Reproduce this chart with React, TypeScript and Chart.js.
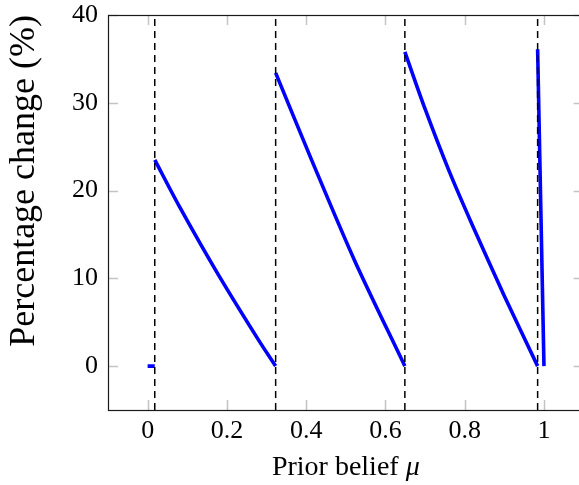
import React, { useEffect, useRef } from "react";
import { Chart, registerables } from "chart.js";

Chart.register(...registerables);

// ---- data ----
const xTicks = [0, 0.2, 0.4, 0.6, 0.8, 1];
const yTicks = [0, 10, 20, 30, 40];
const thresholds = [0.018, 0.323, 0.649, 0.984];

const seg0X = [0, 0.018];
const seg0Y = [0, 0];
const seg1X = [0.018, 0.08, 0.176, 0.28, 0.323];
const seg1Y = [23.5, 18.2, 10.6, 2.96, 0];
const seg2X = [0.323, 0.4136, 0.5215, 0.649];
const seg2Y = [33.4, 23.5, 12.1, 0];
const seg3X = [0.649, 0.7, 0.76, 0.82, 0.9, 0.984];
const seg3Y = [35.8, 29.3, 22.3, 16.0, 8.0, 0];
const seg4X = [0.984, 1.0];
const seg4Y = [36.1, 0];

const X_MIN = -0.1;
const X_MAX = 1.1;
const Y_MIN = -5;
const Y_MAX = 40;

const SERIF = "'Liberation Serif', 'DejaVu Serif', serif";

function pts(xs: number[], ys: number[]) {
  return xs.map((x, i) => ({ x, y: ys[i] }));
}

function fmt(v: number) {
  if (v === 0) return "0";
  if (v === 1) return "1";
  return v.toFixed(1);
}

const boxPlugin = {
  id: "pgfBox",
  beforeDatasetsDraw(chart: any) {
    const { ctx, chartArea: a, scales } = chart;
    const xs = scales.x;
    const ys = scales.y;
    ctx.save();
    ctx.strokeStyle = "#c4c4c4";
    ctx.lineWidth = 1.5;
    const L = 10;
    xTicks.forEach((v) => {
      const px = Math.round(xs.getPixelForValue(v)) + 0.5;
      ctx.beginPath();
      ctx.moveTo(px, a.bottom);
      ctx.lineTo(px, a.bottom - L);
      ctx.moveTo(px, a.top);
      ctx.lineTo(px, a.top + L);
      ctx.stroke();
    });
    yTicks.forEach((v) => {
      const py = Math.round(ys.getPixelForValue(v)) + 0.5;
      ctx.beginPath();
      ctx.moveTo(a.left, py);
      ctx.lineTo(a.left + L, py);
      ctx.moveTo(a.right, py);
      ctx.lineTo(a.right - L, py);
      ctx.stroke();
    });
    ctx.restore();
  },
  afterDraw(chart: any) {
    const { ctx, chartArea: a } = chart;
    ctx.save();
    ctx.strokeStyle = "#1a1a1a";
    ctx.lineWidth = 1.2;
    const l = Math.round(a.left) + 0.5;
    const t = Math.round(a.top) + 0.5;
    const r = Math.round(a.right) + 0.5;
    const b = Math.round(a.bottom) + 0.5;
    ctx.strokeRect(l, t, r - l, b - t);

    // x-axis title with italic mu
    const part1 = "Prior belief ";
    const part2 = "\u03bc";
    ctx.fillStyle = "#000";
    ctx.textBaseline = "alphabetic";
    ctx.font = `28px ${SERIF}`;
    const w1 = ctx.measureText(part1).width;
    ctx.font = `italic 28px ${SERIF}`;
    const w2 = ctx.measureText(part2).width;
    const cx = (a.left + a.right) / 2;
    const x0 = cx - (w1 + w2) / 2;
    ctx.font = `28px ${SERIF}`;
    ctx.textAlign = "left";
    ctx.fillText(part1, x0, 475);
    ctx.font = `italic 28px ${SERIF}`;
    ctx.fillText(part2, x0 + w1, 475);
    ctx.restore();
  },
};

export default function App() {
  const ref = useRef<HTMLCanvasElement | null>(null);

  useEffect(() => {
    if (!ref.current) return;
    const blue = (xs: number[], ys: number[]) => ({
      type: "line" as const,
      data: pts(xs, ys),
      borderColor: "#0000ff",
      borderWidth: 3.6,
      pointRadius: 0,
      fill: false,
      tension: 0.3,
      order: 2,
    });
    const dashed = thresholds.map((t) => ({
      type: "line" as const,
      data: [
        { x: t, y: Y_MIN },
        { x: t, y: Y_MAX },
      ],
      borderColor: "#000",
      borderWidth: 1.5,
      borderDash: [7, 5],
      pointRadius: 0,
      fill: false,
      order: 1,
    }));

    const chart = new Chart(ref.current, {
      type: "line",
      data: {
        datasets: [
          ...dashed,
          blue(seg0X, seg0Y),
          blue(seg1X, seg1Y),
          blue(seg2X, seg2Y),
          blue(seg3X, seg3Y),
          blue(seg4X, seg4Y),
        ] as any,
      },
      options: {
        animation: false,
        responsive: false,
        maintainAspectRatio: false,
        layout: { padding: { top: 15, right: 16.4, left: 0, bottom: 0 } },
        plugins: {
          legend: { display: false },
          tooltip: { enabled: false },
        },
        scales: {
          x: {
            type: "linear",
            min: X_MIN,
            max: X_MAX,
            afterBuildTicks: (s: any) => {
              s.ticks = xTicks.map((v) => ({ value: v }));
            },
            afterFit: (s: any) => {
              s.height = 75;
              s.paddingLeft = 0;
              s.paddingRight = 0;
            },
            ticks: {
              callback: (v: any) => fmt(Number(v)),
              font: { family: SERIF, size: 26 },
              color: "#000",
              padding: 6,
              maxRotation: 0,
              autoSkip: false,
            },
            grid: { display: false, drawTicks: false },
            border: { display: false },
          },
          y: {
            type: "linear",
            min: Y_MIN,
            max: Y_MAX,
            afterBuildTicks: (s: any) => {
              s.ticks = yTicks.map((v) => ({ value: v }));
            },
            afterFit: (s: any) => {
              s.width = 108;
              s.paddingTop = 0;
              s.paddingBottom = 0;
            },
            ticks: {
              callback: (v: any) => String(v),
              font: { family: SERIF, size: 26 },
              color: "#000",
              padding: 10,
            },
            grid: { display: false, drawTicks: false },
            border: { display: false },
            title: {
              display: true,
              text: "Percentage change (%)",
              align: "end",
              color: "#000",
              font: { family: SERIF, size: 36 },
              padding: { top: 3, bottom: 0 },
            },
          },
        },
      } as any,
      plugins: [boxPlugin],
    });
    return () => chart.destroy();
  }, []);

  return (
    <div
      style={{
        position: "absolute",
        left: 0,
        top: 0,
        width: 579,
        height: 485,
        overflow: "hidden",
        background: "#fff",
      }}
    >
      <canvas ref={ref} width={600} height={485} style={{ display: "block" }} />
    </div>
  );
}
